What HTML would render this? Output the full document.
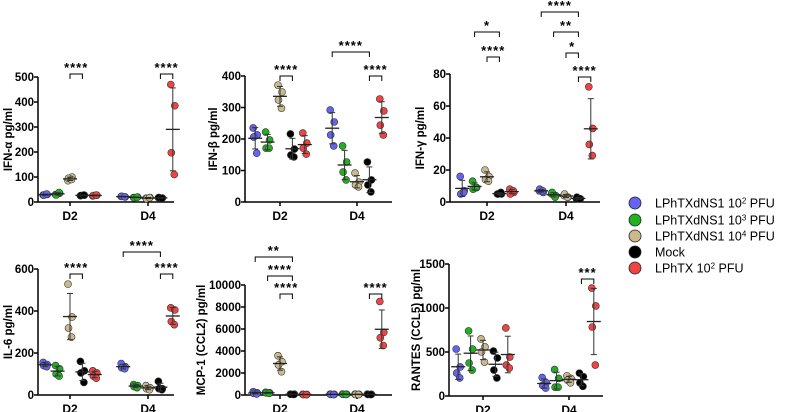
<!DOCTYPE html>
<html><head><meta charset="utf-8"><style>
body{margin:0;background:#fff}
svg{display:block;font-family:"Liberation Sans",sans-serif}
</style></head><body>
<svg id="c" width="790" height="412" xmlns="http://www.w3.org/2000/svg"></svg>
<script>
const groups=["LPhTXdNS1 10^2 PFU","LPhTXdNS1 10^3 PFU","LPhTXdNS1 10^4 PFU","Mock","LPhTX 10^2 PFU"];
const colors=["#6464ee","#22b022","#c9b98b","#000000","#f04444"];
const days=["D2","D4"];
// values[panel][day][group] = 4 replicate points
const ifnA=[[[28,30,27,32],[30,35,28,38],[85,100,95,90],[25,27,26,28],[24,27,26,28]],
            [[22,20,23,21],[18,20,17,19],[15,18,13,17],[17,16,18,15],[470,385,197,110]]];
const ifnB=[[[235,213,206,155],[222,197,171,171],[371,349,324,298],[216,168,149,143],[219,187,171,152]],
            [[292,254,213,178],[178,127,95,70],[92,63,54,48],[127,70,54,32],[327,289,244,213]]];
const ifnG=[[[16,7,5,6],[13,9,8,9],[20,16,14,13],[5,5,5,6],[8,6,5,7]],
            [[7,6,8,7],[5,4,6,3],[4,3,5,3],[2,2,3,2],[72,46,36,29]]];
const il6=[[[155,145,140,135],[140,125,100,90],[528,371,319,276],[160,115,105,60],[115,105,90,80]],
           [[150,135,130,125],[50,45,40,35],[45,35,30,25],[65,30,30,25],[415,405,350,335]]];
const mcp1=[[[300,200,150,100],[250,200,200,150],[3570,3030,2730,2120],[80,70,60,50],[60,50,40,30]],
            [[80,60,50,40],[90,70,60,50],[70,60,50,40],[80,60,50,40],[8500,5700,5200,4500]]];
const rantes=[[[534,330,261,205],[740,534,375,295],[648,557,500,386],[511,432,295,205],[773,443,352,318]],
              [[210,150,120,90],[300,200,100,100],[230,200,180,150],[260,220,150,110],[1227,1023,784,352]]];
const yMax=[500,400,80,600,10000,1500];
const yStep=[100,100,20,200,2000,500];
const yTitles=["IFN-α pg/ml","IFN-β pg/ml","IFN-γ pg/ml","IL-6 pg/ml","MCP-1 (CCL2) pg/ml","RANTES (CCL5) pg/ml"];
const sigStars=[["****","****"],["****","****","****"],["*","****","****","**","*","****"],["****","****","****"],["**","****","****","****"],["***"]];
const allData=[ifnA,ifnB,ifnG,il6,mcp1,rantes];
// layout
const L=[
 {x0:38,x1:174,yt:77,yb:202,d:[70,148],lx:12},
 {x0:245,x1:392,yt:76,yb:202,d:[280,357],lx:217},
 {x0:450,x1:600,yt:74,yb:202,d:[487,566],lx:424},
 {x0:38,x1:174,yt:269,yb:395,d:[70,148],lx:12},
 {x0:245,x1:392,yt:285,yb:395,d:[280,357],lx:205},
 {x0:449,x1:603,yt:264,yb:396,d:[483,569],lx:420}];
// brackets: [day, gi, gj, bracketY]
const BR=[[[0,2,3,74],[1,3,4,74]],
 [[0,2,3,76],[1,0,3,52],[1,3,4,76]],
 [[0,1,3,32],[0,2,3,57],[1,0,3,12],[1,1,3,32],[1,2,3,53],[1,3,4,77]],
 [[0,2,3,274],[1,0,3,252],[1,3,4,274]],
 [[0,0,3,257],[0,1,3,276],[0,2,3,294],[1,3,4,294]],
 [[1,3,4,279]]];
const NS="http://www.w3.org/2000/svg";
const svg=document.getElementById('c');
function mk(t,a,p){const e=document.createElementNS(NS,t);for(const k in a)e.setAttribute(k,a[k]);(p||svg).appendChild(e);return e;}
const sp=12.4;
allData.forEach((data,pi)=>{
 const l=L[pi];
 const g=mk('g',{});
 
 
 const y=v=>l.yb-(v/yMax[pi])*(l.yb-l.yt);
 const xg=(d,gi)=>l.d[d]+(gi-2)*sp;
 const ya=mk('line',{x1:l.x0,y1:l.yt,x2:l.x0,y2:l.yb,stroke:'#000','stroke-width':1.5},g);
 
 const xa=mk('line',{x1:l.x0,y1:l.yb,x2:l.x1,y2:l.yb,stroke:'#000','stroke-width':1.5},g);
 
 for(let v=0;v<=yMax[pi];v+=yStep[pi]){
  mk('line',{x1:l.x0-4,y1:y(v),x2:l.x0,y2:y(v),stroke:'#000','stroke-width':1.5},g);
  const t=mk('text',{x:l.x0-4,y:y(v)+4.2,'text-anchor':'end','font-size':11.5,'font-weight':'bold'},g);
  t.textContent=v;
  
 }
 days.forEach((dn,d)=>{
  mk('line',{x1:l.d[d],y1:l.yb,x2:l.d[d],y2:l.yb+4,stroke:'#000','stroke-width':1.5},g);
  const t=mk('text',{x:l.d[d],y:l.yb+18,'text-anchor':'middle','font-size':12,'font-weight':'bold'},g);
  t.textContent=dn;
  
 });
 const yt=mk('text',{transform:`translate(${l.lx},${(l.yt+l.yb)/2}) rotate(-90)`,'text-anchor':'middle','font-size':11.5,'font-weight':'bold'},g);
 yt.textContent=yTitles[pi];
 
 data.forEach((dd,d)=>dd.forEach((vals,gi)=>{
  const cx=xg(d,gi);
  const m=vals.reduce((a,b)=>a+b,0)/vals.length;
  const sd=Math.sqrt(vals.reduce((a,b)=>a+(b-m)*(b-m),0)/(vals.length-1));
  const jit=[-2,2,-1.5,1.5];
  vals.forEach((v,k)=>{
   const c=mk('circle',{cx:cx+jit[k],cy:y(v),r:3.5,fill:colors[gi],stroke:'#333','stroke-width':0.6},g);
   
   
  });
  const top=y(Math.min(m+sd,yMax[pi]*1.05)),bot=y(Math.max(m-sd,0));
  mk('line',{x1:cx,y1:top,x2:cx,y2:bot,stroke:'#333','stroke-width':1},g);
  mk('line',{x1:cx-3,y1:top,x2:cx+3,y2:top,stroke:'#333','stroke-width':1},g);
  mk('line',{x1:cx-3,y1:bot,x2:cx+3,y2:bot,stroke:'#333','stroke-width':1},g);
  const ml=mk('line',{x1:cx-7,y1:y(m),x2:cx+7,y2:y(m),stroke:'#222','stroke-width':1.3},g);
  
 }));
 BR[pi].forEach((b,bi)=>{
  const xa1=xg(b[0],b[1]),xb=xg(b[0],b[2]),by=b[3];
  const p=mk('path',{d:`M${xa1},${by+5}V${by}H${xb}V${by+5}`,fill:'none',stroke:'#000','stroke-width':1},g);
  
  const t=mk('text',{x:(xa1+xb)/2,y:by-2,'text-anchor':'middle','font-size':13,'font-weight':'bold','letter-spacing':'1'},g);
  t.textContent=sigStars[pi][bi];
  
 });
});
const ly=[203,220,236,252,268];
groups.forEach((name,i)=>{
 const g=mk('g',{});
 
 
 mk('circle',{cx:635,cy:ly[i],r:6,fill:colors[i],stroke:'#222','stroke-width':0.8},g);
 const t=mk('text',{x:655,y:ly[i]+4.5,'font-size':12.5},g);
 const parts=name.split('^');
 if(parts.length>1){
  t.appendChild(document.createTextNode(parts[0]));
  const s=mk('tspan',{'baseline-shift':'super','font-size':8},t);s.textContent=parts[1][0];
  const r=mk('tspan',{},t);r.textContent=parts[1].slice(1);
 } else t.textContent=name;
});
</script>
</body></html>
